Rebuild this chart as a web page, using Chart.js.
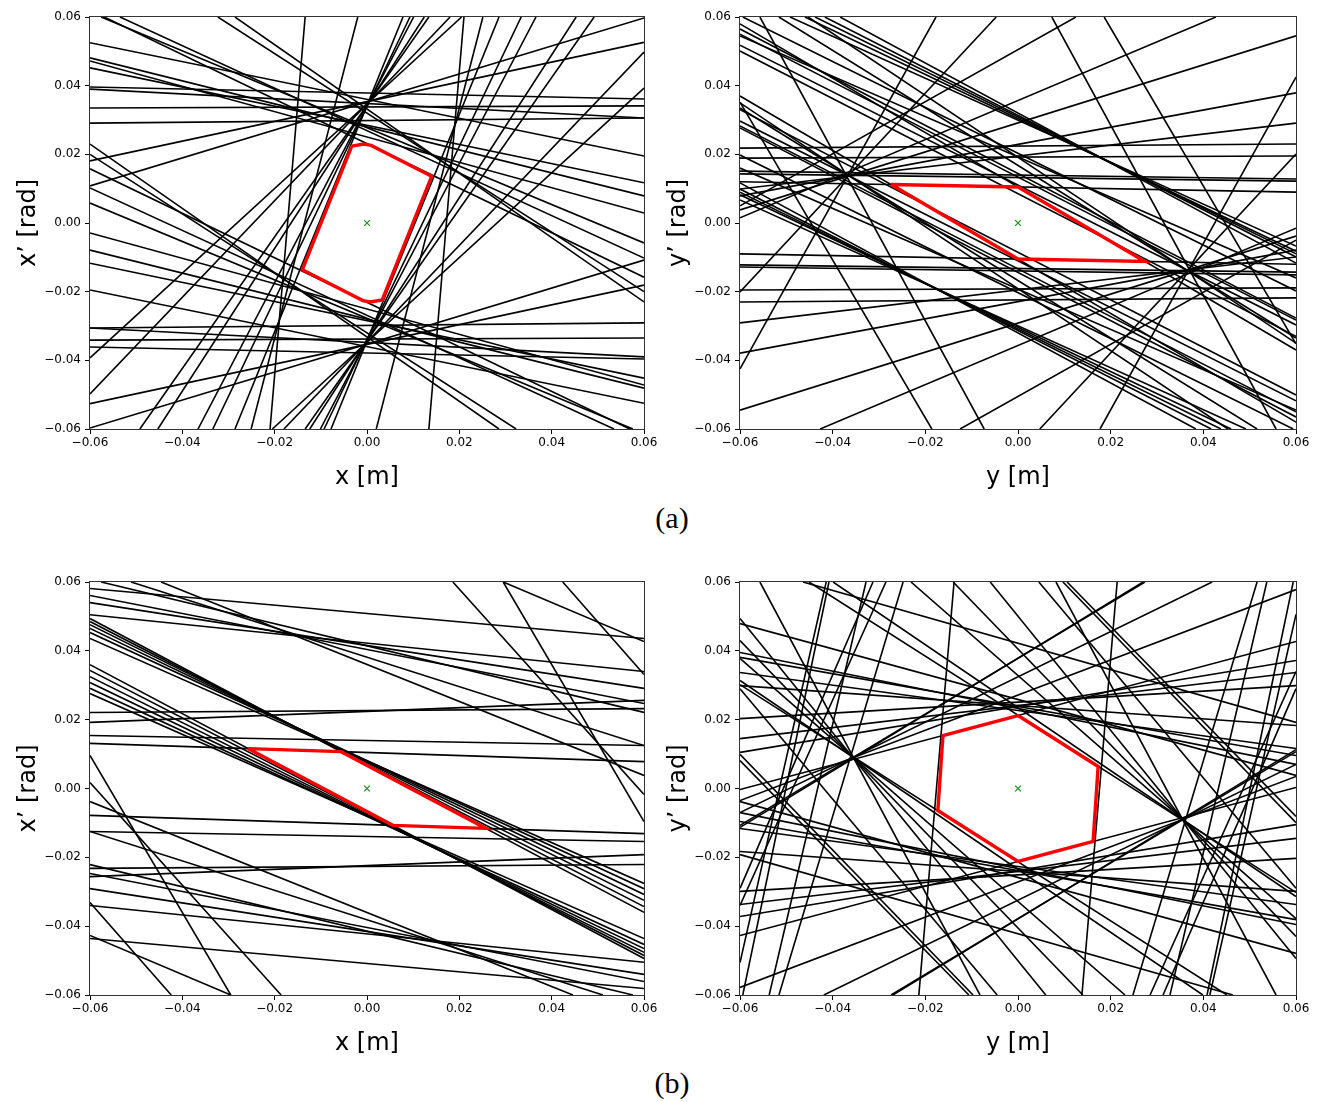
<!DOCTYPE html>
<html>
<head>
<meta charset="utf-8">
<script src="https://cdn.jsdelivr.net/npm/chart.js@4.4.1/dist/chart.umd.min.js"></script>
<style>
body { margin: 0; background: #fff; width: 1320px; height: 1102px; position: relative; overflow: hidden; }
canvas { position: absolute; }
.lab { position: absolute; width: 100px; text-align: center; font-family: "Liberation Serif", "DejaVu Serif", serif; font-size: 30px; line-height: 36px; color: #000; }
</style>
</head>
<body>
<canvas id="c1" width="680" height="493" style="left:0px;top:0px"></canvas>
<canvas id="c2" width="670" height="493" style="left:650px;top:0px"></canvas>
<canvas id="c3" width="680" height="494" style="left:0px;top:565px"></canvas>
<canvas id="c4" width="670" height="494" style="left:650px;top:565px"></canvas>
<div class="lab" style="left:622px;top:500px">(a)</div>
<div class="lab" style="left:622px;top:1065px">(b)</div>
<script>
// tick positions, same on every axis
var tickVals = [-0.06, -0.04, -0.02, 0.00, 0.02, 0.04, 0.06];

// each line: [x1, y1, x2, y2] (every constraint gives a pair)
var linesXa = [
  [0.0078,0.06,-0.0286,-0.06],[-0.0078,-0.06,0.0286,0.06],
  [-0.06,0.062,0.06,-0.0158],[0.06,-0.062,-0.06,0.0158],
  [-0.06,-0.0393,0.0205,0.06],[0.06,0.0393,-0.0205,-0.06],
  [-0.06,-0.0498,0.018,0.06],[0.06,0.0498,-0.018,-0.06],
  [-0.0492,-0.06,0.0134,0.06],[0.0492,0.06,-0.0134,-0.06],
  [-0.0453,-0.06,0.0124,0.06],[0.0453,0.06,-0.0124,-0.06],
  [-0.0366,-0.06,0.0101,0.06],[0.0366,0.06,-0.0101,-0.06],
  [-0.0334,-0.06,0.0093,0.06],[0.0334,0.06,-0.0093,-0.06],
  [-0.0251,-0.06,-0.002,0.06],[0.0251,0.06,0.002,-0.06],
  [-0.06,0.0181,0.06,0.0526],[0.06,-0.0181,-0.06,-0.0526],
  [-0.06,0.0108,0.06,0.0597],[0.06,-0.0108,-0.06,-0.0597],
  [-0.0576,0.06,0.06,-0.0058],[0.0576,-0.06,-0.06,0.0058],
  [-0.0535,0.06,0.06,-0.0102],[0.0535,-0.06,-0.06,0.0102],
  [-0.06,0.0481,0.06,0.0079],[0.06,-0.0481,-0.06,-0.0079],
  [-0.06,0.0472,0.06,0.0029],[0.06,-0.0472,-0.06,-0.0029],
  [-0.06,0.0525,0.06,0.0195],[0.06,-0.0525,-0.06,-0.0195],
  [-0.06,0.0452,0.06,0.0117],[0.06,-0.0452,-0.06,-0.0117],
  [-0.06,0.0396,0.06,0.0361],[0.06,-0.0396,-0.06,-0.0361],
  [-0.06,0.039,0.06,0.0306],[0.06,-0.039,-0.06,-0.0306],
  [-0.06,0.0335,0.06,0.0341],[0.06,-0.0335,-0.06,-0.0341],
  [-0.06,0.0291,0.06,0.0306],[0.06,-0.0291,-0.06,-0.0306],
  [-0.0323,0.06,0.06,-0.02],[0.0323,-0.06,-0.06,0.02],
  [-0.0286,0.06,0.06,-0.023],[0.0286,-0.06,-0.06,0.023],
  [-0.0134,0.06,-0.021,-0.06],[0.0134,-0.06,0.021,0.06]
];
var linesYa = [
  [-0.06,0.0079,0.06,0.0379],[0.06,-0.0079,-0.06,-0.0379],
  [-0.06,0.0099,0.06,0.0291],[0.06,-0.0099,-0.06,-0.0291],
  [-0.06,0.0038,0.06,0.0545],[0.06,-0.0038,-0.06,-0.0545],
  [-0.06,0.035,0.0453,-0.06],[0.06,-0.035,-0.0453,0.06],
  [-0.06,0.0335,0.0516,-0.06],[0.06,-0.0335,-0.0516,0.06],
  [-0.06,0.0297,0.06,-0.0518],[0.06,-0.0297,-0.06,0.0518],
  [-0.06,0.0283,0.06,-0.055],[0.06,-0.0283,-0.06,0.055],
  [-0.0557,0.06,-0.0073,-0.06],[0.0557,-0.06,0.0073,0.06],
  [-0.06,-0.0201,-0.0047,0.06],[0.06,0.0201,0.0047,-0.06],
  [-0.06,-0.0425,-0.0177,0.06],[0.06,0.0425,0.0177,-0.06],
  [-0.06,0.0015,0.0427,0.06],[0.06,-0.0015,-0.0427,-0.06],
  [0.0186,0.06,0.06,-0.0352],[-0.0186,-0.06,-0.06,0.0352],
  [0.0125,0.06,-0.06,0.005],[-0.0125,-0.06,0.06,-0.005],
  [-0.0492,0.06,0.06,-0.0067],[0.0492,-0.06,-0.06,0.0067],
  [-0.046,0.06,0.06,-0.0082],[0.046,-0.06,-0.06,0.0082],
  [-0.0438,0.06,0.06,-0.009],[0.0438,-0.06,-0.06,0.009],
  [-0.0417,0.06,0.06,-0.0099],[0.0417,-0.06,-0.06,0.0099],
  [-0.0384,0.06,0.06,-0.0117],[0.0384,-0.06,-0.06,0.0117],
  [-0.0594,0.06,0.06,-0.0198],[0.0594,-0.06,-0.06,0.0198],
  [-0.06,0.0565,0.06,-0.0277],[0.06,-0.0565,-0.06,0.0277],
  [-0.06,0.0501,0.06,-0.033],[0.06,-0.0501,-0.06,0.033],
  [-0.06,0.0545,0.06,-0.016],[0.06,-0.0545,-0.06,0.016],
  [-0.06,0.037,0.06,-0.058],[0.06,-0.037,-0.06,0.058],
  [-0.06,0.0218,0.06,0.023],[0.06,-0.0218,-0.06,-0.023],
  [-0.06,0.0189,0.06,0.0195],[0.06,-0.0189,-0.06,-0.0195],
  [-0.06,0.0143,0.06,0.0122],[0.06,-0.0143,-0.06,-0.0122],
  [-0.06,0.012,0.06,0.009],[0.06,-0.012,-0.06,-0.009],
  [-0.06,0.0151,0.06,0.0128],[0.06,-0.0151,-0.06,-0.0128]
];
var linesXb = [
  [-0.06,0.036,0.06,-0.0494],[0.06,-0.036,-0.06,0.0494],
  [-0.06,0.0343,0.06,-0.0485],[0.06,-0.0343,-0.06,0.0485],
  [-0.06,0.0325,0.06,-0.0476],[0.06,-0.0325,-0.06,0.0476],
  [-0.06,0.0308,0.06,-0.0465],[0.06,-0.0308,-0.06,0.0465],
  [-0.06,0.0291,0.06,-0.0453],[0.06,-0.0291,-0.06,0.0453],
  [-0.06,0.0276,0.06,-0.0436],[0.06,-0.0276,-0.06,0.0436],
  [-0.06,0.0581,0.06,0.0436],[0.06,-0.0581,-0.06,-0.0436],
  [-0.06,0.0561,0.06,0.0247],[0.06,-0.0561,-0.06,-0.0247],
  [-0.0576,0.06,0.06,0.0221],[0.0576,-0.06,-0.06,-0.0221],
  [-0.0511,0.06,0.06,0.0125],[0.0511,-0.06,-0.06,-0.0125],
  [-0.0446,0.06,0.06,0.0038],[0.0446,-0.06,-0.06,-0.0038],
  [-0.06,0.054,0.06,0.0291],[0.06,-0.054,-0.06,-0.0291],
  [-0.06,0.0221,0.06,0.0232],[0.06,-0.0221,-0.06,-0.0232],
  [-0.06,0.0154,0.06,0.0125],[0.06,-0.0154,-0.06,-0.0125],
  [-0.06,0.0131,0.06,0.0078],[0.06,-0.0131,-0.06,-0.0078],
  [-0.06,0.0192,0.06,0.0256],[0.06,-0.0192,-0.06,-0.0256],
  [-0.06,0.0096,-0.0295,-0.06],[0.06,-0.0096,0.0295,0.06],
  [-0.06,0.0017,-0.0186,-0.06],[0.06,-0.0017,0.0186,0.06],
  [-0.06,-0.0331,-0.0424,-0.06],[0.06,0.0331,0.0424,0.06],
  [-0.06,-0.0427,-0.0295,-0.06],[0.06,0.0427,0.0295,0.06],
  [-0.06,0.0505,0.06,0.0340],[0.06,-0.0505,-0.06,-0.0340]
];
var linesYb = [
  [-0.0138,0.06,-0.0214,-0.06],[0.0138,-0.06,0.0214,0.06],
  [-0.06,-0.0003,0.06,0.0427],[0.06,0.0003,-0.06,-0.0427],
  [-0.0451,0.06,0.06,-0.0302],[0.0451,-0.06,-0.06,0.0302],
  [-0.06,-0.0035,0.06,0.0578],[0.06,0.0035,-0.06,-0.0578],
  [-0.06,-0.007,0.0419,0.06],[0.06,0.007,-0.0419,-0.06],
  [-0.06,-0.0107,0.0274,0.06],[0.06,0.0107,-0.0274,-0.06],
  [-0.06,0.0494,0.006,-0.06],[0.06,-0.0494,-0.006,0.06],
  [-0.06,0.043,0.014,-0.06],[0.06,-0.043,-0.014,0.06],
  [-0.06,0.0378,0.0231,-0.06],[0.06,-0.0378,-0.0231,0.06],
  [-0.0557,0.06,-0.0082,-0.06],[0.0557,-0.06,0.0082,0.06],
  [-0.06,0.0314,0.0399,-0.06],[0.06,-0.0314,-0.0399,0.06],
  [-0.06,0.0395,0.06,0.007],[0.06,-0.0395,-0.06,-0.007],
  [-0.06,0.0337,0.06,0.0116],[0.06,-0.0337,-0.06,-0.0116],
  [-0.06,0.0299,0.06,0.0183],[0.06,-0.0299,-0.06,-0.0183],
  [-0.0594,-0.06,-0.0408,0.06],[0.0594,0.06,0.0408,-0.06],
  [-0.0537,-0.06,-0.0328,0.06],[0.0537,0.06,0.0328,-0.06],
  [-0.06,-0.0506,-0.0414,0.06],[0.06,0.0506,0.0414,-0.06],
  [-0.0516,-0.06,-0.0248,0.06],[0.0516,0.06,0.0248,-0.06],
  [-0.027,-0.06,0.06,0.0113],[0.027,0.06,-0.06,-0.0113],
  [-0.06,0.0203,0.06,0.0299],[0.06,-0.0203,-0.06,-0.0299],
  [-0.06,0.0145,0.06,0.0337],[0.06,-0.0145,-0.06,-0.0337],
  [-0.0464,0.06,0.06,0.0192],[0.0464,-0.06,-0.06,-0.0192],
  [-0.06,0.0105,0.06,0.0372],[0.06,-0.0105,-0.06,-0.0372],
  [0.0097,0.06,0.06,-0.0099],[-0.0097,-0.06,-0.06,0.0099],
  [0.0045,0.06,0.06,-0.029],[-0.0045,-0.06,-0.06,0.029],
  [-0.06,0.0479,0.06,0.0038],[0.06,-0.0479,-0.06,-0.0038],
  [-0.06,0.0381,0.06,0.0096],[0.06,-0.0381,-0.06,-0.0096],
  [-0.06,-0.034,-0.0285,0.06],[0.06,0.034,0.0285,-0.06],
  [-0.06,-0.029,-0.0313,0.06],[0.06,0.029,0.0313,-0.06],
  [-0.0106,-0.06,-0.06,0.0081],[0.0106,0.06,0.06,-0.0081]
];

// red acceptance polygons
var polyXa = [[-0.0033,0.0224],[-0.0007,0.0230],[0.0009,0.0226],[0.0140,0.0136],[0.0033,-0.0224],[0.0007,-0.0230],[-0.0009,-0.0226],[-0.0140,-0.0136]];
var polyYa = [[-0.0274,0.0112],[0.0,0.0105],[0.0274,-0.0112],[0.0,-0.0105]];
var polyXb = [[-0.0258,0.0116],[-0.0056,0.0107],[0.0258,-0.0116],[0.0056,-0.0107]];
var polyYb = [[0,0.0212],[0.0173,0.0064],[0.0162,-0.0154],[0,-0.0212],[-0.0173,-0.0064],[-0.0162,0.0154]];

Chart.defaults.font.family = 'DejaVu Sans';
Chart.defaults.color = '#000';

var framePlugin = {
  id: 'frame',
  afterDatasetsDraw: function(chart) {
    var a = chart.chartArea, ctx = chart.ctx;
    ctx.save();
    ctx.strokeStyle = '#333';
    ctx.lineWidth = 1;
    ctx.strokeRect(a.left - 0.5, a.top - 0.5, a.right - a.left + 1, a.bottom - a.top + 1);
    ctx.restore();
  }
};

function fmt(v) {
  return (v < -1e-9 ? '\u2212' : '') + Math.abs(v).toFixed(2);
}

function axis(title, isX) {
  return {
    type: 'linear',
    min: -0.06,
    max: 0.06,
    afterBuildTicks: function(s) { s.ticks = tickVals.map(function(v) { return {value: v}; }); },
    afterFit: function(s) { if (isX) { s.height = 64; } else { s.width = 90; } },
    ticks: { callback: fmt, font: {size: 12}, color: '#000', padding: isX ? 2 : 4, maxRotation: 0, autoSkip: false },
    grid: { drawOnChartArea: false, drawTicks: true, tickLength: 5, tickColor: '#000', tickWidth: 1 },
    border: { display: false },
    title: { display: true, text: title, font: {size: 24}, color: '#000',
      padding: isX ? {top: 0, bottom: 1} : {top: 14, bottom: 0} }
  };
}

function makeChart(id, lines, poly, xTitle, yTitle, padRight) {
  var sets = [];
  sets.push({ data: [{x: 0, y: 0}], showLine: false, pointStyle: 'crossRot', pointRadius: 4,
    borderColor: '#1a8f1a', backgroundColor: '#1a8f1a', borderWidth: 1.2 });
  var pts = poly.map(function(p) { return {x: p[0], y: p[1]}; });
  pts.push({x: poly[0][0], y: poly[0][1]});
  sets.push({ data: pts, showLine: true, borderColor: '#ff0000', borderWidth: 3.4, pointRadius: 0, clip: 0 });
  lines.forEach(function(l) {
    sets.push({ data: [{x: l[0], y: l[1]}, {x: l[2], y: l[3]}], showLine: true,
      borderColor: '#000', borderWidth: 1.6, pointRadius: 0, clip: 0 });
  });
  return new Chart(document.getElementById(id), {
    type: 'scatter',
    data: { datasets: sets },
    options: {
      responsive: false,
      animation: false,
      events: [],
      layout: { padding: { top: 17, right: padRight, left: 0, bottom: 0 } },
      plugins: { legend: { display: false }, tooltip: { enabled: false } },
      scales: { x: axis(xTitle, true), y: axis(yTitle, false) }
    },
    plugins: [framePlugin]
  });
}

makeChart('c1', linesXa, polyXa, 'x [m]', 'x\u2019 [rad]', 36);
makeChart('c2', linesYa, polyYa, 'y [m]', 'y\u2019 [rad]', 24);
makeChart('c3', linesXb, polyXb, 'x [m]', 'x\u2019 [rad]', 36);
makeChart('c4', linesYb, polyYb, 'y [m]', 'y\u2019 [rad]', 24);
</script>
</body>
</html>
